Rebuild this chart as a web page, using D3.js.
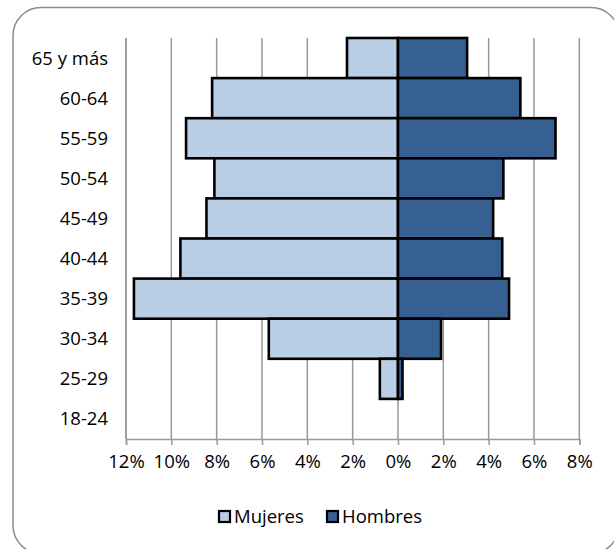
<!DOCTYPE html>
<html>
<head>
<meta charset="utf-8">
<script src="https://cdn.jsdelivr.net/npm/d3@7"></script>
<style>
  html, body { margin: 0; padding: 0; background: #ffffff; }
  svg { display: block; }
  text { font-family: "Open Sans", Lato, sans-serif; fill: #000; }
</style>
</head>
<body>
<script>
// Age groups, top to bottom
const ageGroups = ["65 y más", "60-64", "55-59", "50-54", "45-49", "40-44", "35-39", "30-34", "25-29", "18-24"];
// Share of each sex per age group (%)
const mujeres = [2.25, 8.2, 9.35, 8.1, 8.45, 9.6, 11.65, 5.7, 0.8, 0];
const hombres = [3.05, 5.4, 6.95, 4.65, 4.2, 4.6, 4.9, 1.9, 0.2, 0];
// Axis ticks (signed: negative = left side)
const tickValues = [-12, -10, -8, -6, -4, -2, 0, 2, 4, 6, 8];
const seriesNames = ["Mujeres", "Hombres"];
const seriesColors = ["#b9cde5", "#366092"];

const W = 614, H = 549;
const margin = { left: 126, right: 614 - 579.3, top: 38, bottom: 549 - 439 };
const fontSize = 18.5;

const svg = d3.select("body").append("svg").attr("width", W).attr("height", H);

// Rounded chart frame
svg.append("rect")
  .attr("x", 13).attr("y", 7.5)
  .attr("width", 606).attr("height", 546)
  .attr("rx", 28).attr("ry", 28)
  .attr("fill", "#fff").attr("stroke", "#8c8c8c").attr("stroke-width", 1.5);

const x = d3.scaleLinear().domain([-12, 8]).range([margin.left, W - margin.right]);
const y = d3.scaleBand().domain(ageGroups).range([margin.top, H - margin.bottom]).padding(0);

// Vertical gridlines
svg.append("g").selectAll("line").data(tickValues).join("line")
  .attr("x1", d => x(d)).attr("x2", d => x(d))
  .attr("y1", margin.top).attr("y2", H - margin.bottom)
  .attr("stroke", "#999").attr("stroke-width", 1.5);

// Bars
const rows = ageGroups.map((g, i) => ({ g, m: mujeres[i], h: hombres[i] }));
const bars = svg.append("g").attr("stroke", "#000").attr("stroke-width", 2.6);
bars.selectAll("rect.m").data(rows.filter(r => r.m > 0)).join("rect")
  .attr("class", "m")
  .attr("x", d => x(-d.m)).attr("width", d => x(0) - x(-d.m))
  .attr("y", d => y(d.g)).attr("height", y.bandwidth())
  .attr("fill", seriesColors[0]);
bars.selectAll("rect.h").data(rows.filter(r => r.h > 0)).join("rect")
  .attr("class", "h")
  .attr("x", x(0)).attr("width", d => x(d.h) - x(0))
  .attr("y", d => y(d.g)).attr("height", y.bandwidth())
  .attr("fill", seriesColors[1]);

// Bottom axis
const xAxis = d3.axisBottom(x).tickValues(tickValues).tickSize(6).tickPadding(10)
  .tickFormat(d => Math.abs(d) + "%");
const gx = svg.append("g").attr("transform", `translate(0,${H - margin.bottom})`).call(xAxis);
gx.select(".domain").attr("stroke", "#999").attr("stroke-width", 1.5);
gx.selectAll(".tick line").attr("stroke", "#999").attr("stroke-width", 1.5);
gx.selectAll("text").attr("font-size", fontSize).attr("font-family", "Open Sans").attr("fill", "#000");

// Left axis line
svg.append("line")
  .attr("x1", margin.left).attr("x2", margin.left)
  .attr("y1", margin.top).attr("y2", H - margin.bottom)
  .attr("stroke", "#999").attr("stroke-width", 1.5);

// Age group labels
svg.append("g").selectAll("text").data(ageGroups).join("text")
  .attr("x", 108)
  .attr("y", d => y(d) + y.bandwidth() / 2)
  .attr("dy", "0.35em")
  .attr("text-anchor", "end")
  .attr("font-size", fontSize)
  .text(d => d);

// Legend
const legend = svg.append("g");
const legendItems = [{ name: seriesNames[0], color: seriesColors[0], x: 219 },
                     { name: seriesNames[1], color: seriesColors[1], x: 327 }];
legendItems.forEach(it => {
  legend.append("rect")
    .attr("x", it.x).attr("y", 511)
    .attr("width", 11).attr("height", 11)
    .attr("fill", it.color).attr("stroke", "#000").attr("stroke-width", 2.2);
  legend.append("text")
    .attr("x", it.x + 15).attr("y", 523)
    .attr("font-size", fontSize)
    .text(it.name);
});
</script>
</body>
</html>
